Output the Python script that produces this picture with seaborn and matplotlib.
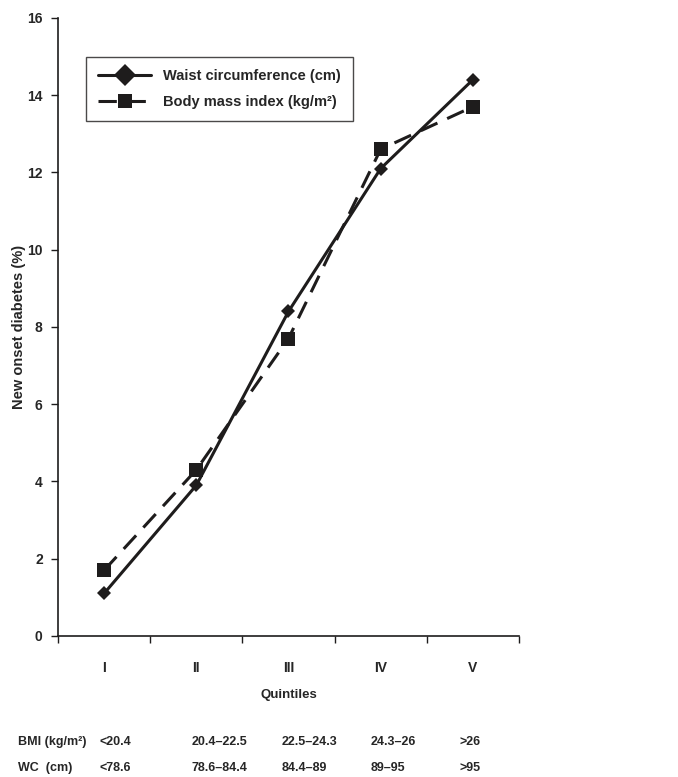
import pandas as pd
import matplotlib
matplotlib.use("Agg")
import matplotlib.pyplot as plt
import seaborn as sns

# ---------------------------------------------------------------------------
# Data
# ---------------------------------------------------------------------------
quintiles = ["I", "II", "III", "IV", "V"]
wc_values = [1.1, 3.9, 8.4, 12.1, 14.4]
bmi_values = [1.7, 4.3, 7.7, 12.6, 13.7]
bmi_ranges = ["<20.4", "20.4\u201322.5", "22.5\u201324.3", "24.3\u201326", ">26"]
wc_ranges = ["<78.6", "78.6\u201384.4", "84.4\u201389", "89\u201395", ">95"]
series_names = ["Waist circumference (cm)", "Body mass index (kg/m\u00b2)"]

INK = "#1e1c1c"

df = pd.DataFrame({
    "Quintile": quintiles * 2,
    "Value": wc_values + bmi_values,
    "Series": [series_names[0]] * 5 + [series_names[1]] * 5,
})

sns.set_style("white")
plt.rcParams["font.family"] = ["Liberation Sans", "DejaVu Sans"]
plt.rcParams["font.weight"] = "bold"

fig = plt.figure(figsize=(6.78, 7.77), dpi=100)
ax = fig.add_axes([0.0855, 0.1815, 0.68, 0.7955])

sns.lineplot(
    data=df, x="Quintile", y="Value", hue="Series", style="Series",
    palette=[INK, INK],
    dashes={series_names[0]: "", series_names[1]: (6, 3.5)},
    markers={series_names[0]: "D", series_names[1]: "s"},
    sort=False, linewidth=2.2, markeredgewidth=0, ax=ax,
)
# marker sizes differ per series
lines = ax.get_lines()
lines[0].set_markersize(7.5)
lines[1].set_markersize(10)

ax.set_xlim(-0.5, 4.5)
ax.set_ylim(0, 16)
ax.set_yticks(range(0, 17, 2))
ax.set_xticks(range(5))
ax.set_xticklabels(quintiles)
ax.set_xticks([i - 0.5 for i in range(6)], minor=True)
ax.tick_params(axis="x", which="major", bottom=True, length=0, pad=18, labelsize=10)
ax.tick_params(axis="x", which="minor", bottom=True, length=5, width=1, color=INK,
               direction="out")
ax.tick_params(axis="y", left=True, length=5, width=1, color=INK, direction="out",
               labelsize=10, pad=6)
for lbl in ax.get_xticklabels() + ax.get_yticklabels():
    lbl.set_fontweight("bold")

sns.despine(ax=ax)
for side in ["left", "bottom"]:
    ax.spines[side].set_color(INK)
    ax.spines[side].set_linewidth(1.2)

ax.set_xlabel("Quintiles", fontsize=9.5, fontweight="bold", labelpad=10)
ax.set_ylabel("New onset diabetes (%)", fontsize=10.5, fontweight="bold", labelpad=1)

leg = ax.legend(
    loc="upper left", bbox_to_anchor=(0.061, 0.937), fontsize=10.5,
    handlelength=3.6, frameon=True, fancybox=False, borderpad=0.85,
    labelspacing=0.8, handletextpad=0.8, borderaxespad=0,
)
leg.get_frame().set_edgecolor(INK)
leg.get_frame().set_linewidth(1.0)
for txt in leg.get_texts():
    txt.set_fontweight("bold")
for h, ms in zip(leg.legend_handles, [11, 10]):
    h.set_markersize(ms)

# Range table under the axis
row_y = [742, 768]
fig.text(18 / 678, 1 - row_y[0] / 777, "BMI (kg/m\u00b2)", fontsize=9,
         fontweight="bold", va="center")
fig.text(18 / 678, 1 - row_y[1] / 777, "WC  (cm)", fontsize=9,
         fontweight="bold", va="center")
col_x = [100, 192, 282, 371, 459]
for cx, b, w in zip(col_x, bmi_ranges, wc_ranges):
    fig.text(cx / 678, 1 - row_y[0] / 777, b, fontsize=9, fontweight="bold", va="center")
    fig.text(cx / 678, 1 - row_y[1] / 777, w, fontsize=9, fontweight="bold", va="center")

fig.savefig("out.png", dpi=100)
